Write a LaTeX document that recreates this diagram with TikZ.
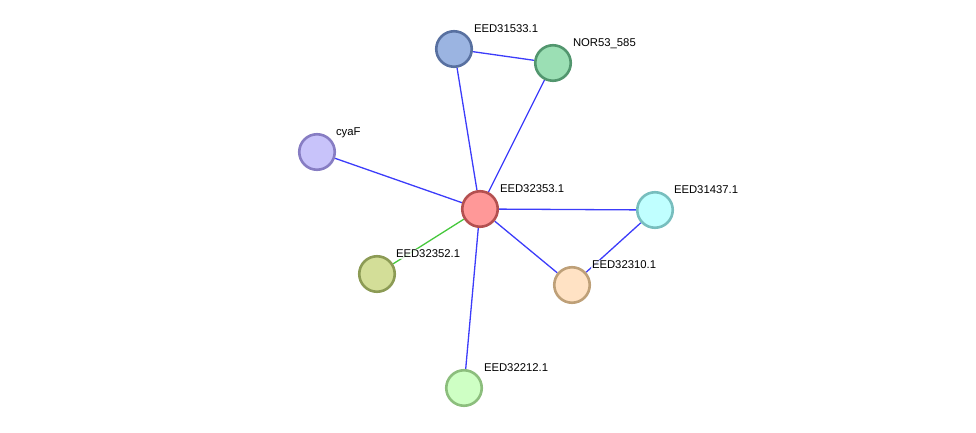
\documentclass[tikz,border=0pt]{standalone}
\usepackage{fontspec}
\setmainfont{Liberation Sans}
\usetikzlibrary{backgrounds}
\definecolor{edgeblue}{RGB}{60,60,250}
\definecolor{edgegreen}{RGB}{70,200,60}
\tikzset{
  prot/.style={circle,draw,line width=2.6bp,minimum size=35.5bp,inner sep=0pt},
  plabel/.style={anchor=base west,fill=white,fill opacity=0.8,text opacity=1,inner sep=0.8bp,font=\fontsize{11.3bp}{13bp}\selectfont},
  bl/.style={draw=edgeblue,line width=1.3bp},
  gr/.style={draw=edgegreen,line width=1.3bp}
}
\begin{document}
\begin{tikzpicture}[x=1bp,y=-1bp]
    \useasboundingbox (0,0) rectangle (976,433);
    % proteins
    \node[prot,fill={rgb,255:red,155;green,180;blue,225},draw={rgb,255:red,88;green,112;blue,160}] (a31533) at (454,49) {};
    \node[prot,fill={rgb,255:red,155;green,223;blue,180},draw={rgb,255:red,82;green,150;blue,110}] (nor53) at (553,63) {};
    \node[prot,fill={rgb,255:red,200;green,195;blue,250},draw={rgb,255:red,135;green,125;blue,195}] (cyaf) at (317,152) {};
    \node[prot,fill={rgb,255:red,255;green,152;blue,152},draw={rgb,255:red,180;green,80;blue,80}] (a32353) at (480,209) {};
    \node[prot,fill={rgb,255:red,192;green,255;blue,255},draw={rgb,255:red,120;green,190;blue,190}] (a31437) at (655,210) {};
    \node[prot,fill={rgb,255:red,211;green,222;blue,152},draw={rgb,255:red,140;green,155;blue,85}] (a32352) at (377,274) {};
    \node[prot,fill={rgb,255:red,255;green,226;blue,196},draw={rgb,255:red,190;green,160;blue,120}] (a32310) at (572,285) {};
    \node[prot,fill={rgb,255:red,206;green,255;blue,196},draw={rgb,255:red,140;green,190;blue,125}] (a32212) at (464,388) {};
    % edges
    \begin{scope}[on background layer]
      \draw[bl] (a31533) -- (nor53);
      \draw[bl] (a31533) -- (a32353);
      \draw[bl] (nor53) -- (a32353);
      \draw[bl] (cyaf) -- (a32353);
      \draw[bl] (a32353) -- (a31437);
      \draw[bl] (a32353) -- (a32310);
      \draw[bl] (a31437) -- (a32310);
      \draw[bl] (a32353) -- (a32212);
      \draw[gr] (a32353) -- (a32352);
    \end{scope}
    % labels
    \node[plabel] (l31533) at ([shift={(19,-16)}]a31533.center) {EED31533.1};
    \node[plabel] (lnor53) at ([shift={(19,-16)}]nor53.center) {NOR53\_585};
    \node[plabel] (lcyaf) at ([shift={(18,-16)}]cyaf.center) {cyaF};
    \node[plabel] (l32353) at ([shift={(19,-16)}]a32353.center) {EED32353.1};
    \node[plabel] (l31437) at ([shift={(18,-16)}]a31437.center) {EED31437.1};
    \node[plabel] (l32352) at ([shift={(18,-16)}]a32352.center) {EED32352.1};
    \node[plabel] (l32310) at ([shift={(19,-16)}]a32310.center) {EED32310.1};
    \node[plabel] (l32212) at ([shift={(19,-16)}]a32212.center) {EED32212.1};
\end{tikzpicture}
\end{document}
